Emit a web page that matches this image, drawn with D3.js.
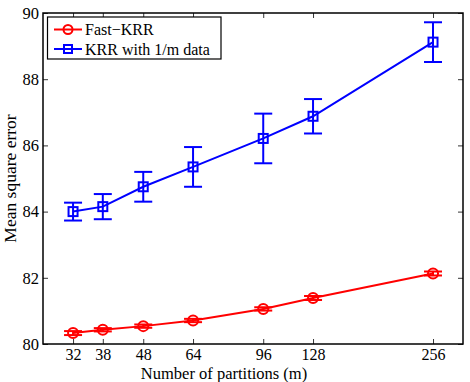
<!DOCTYPE html>
<html><head><meta charset="utf-8">
<script src="https://cdn.jsdelivr.net/npm/d3@7"></script>
<style>body{margin:0;background:#fff}svg{display:block}text{font-family:"Liberation Serif","Times New Roman",serif}</style>
</head><body>
<script>
const partitions = [32, 38, 48, 64, 96, 128, 256];
const fastKRR = [80.33, 80.43, 80.54, 80.71, 81.06, 81.39, 82.13];
const fastKRRErr = [0.06, 0.05, 0.05, 0.05, 0.05, 0.06, 0.06];
const krrSub = [84.0, 84.15, 84.75, 85.35, 86.21, 86.88, 89.12];
const krrSubErr = [0.27, 0.38, 0.45, 0.6, 0.75, 0.52, 0.6];
const yTicks = [80, 82, 84, 86, 88, 90];
const seriesNames = ["Fast\u2212KRR", "KRR with 1/m data"];

const W = 470, H = 382;
const m = {l: 43, r: 463, t: 13, b: 344};
const svg = d3.select("body").append("svg").attr("width", W).attr("height", H);

const x = d3.scaleLog().base(2).domain([26.9, 304.4]).range([m.l, m.r]);
const y = d3.scaleLinear().domain([80, 90]).range([m.b, m.t]);

const series = [
  {name: seriesNames[0], vals: fastKRR, err: fastKRRErr, color: "#ff0000", marker: "circle"},
  {name: seriesNames[1], vals: krrSub, err: krrSubErr, color: "#0000ff", marker: "square"}
];

const tl = 5;
svg.append("g").attr("transform", `translate(0,${m.b})`)
  .call(d3.axisBottom(x).tickValues(partitions).tickFormat(d3.format("d")).tickSizeInner(-tl).tickSizeOuter(0).tickPadding(5))
  .call(g => { g.select(".domain").remove(); g.selectAll("text").attr("font-size", 16).attr("fill", "#000"); });
svg.append("g").attr("transform", `translate(0,${m.t})`)
  .call(d3.axisTop(x).tickValues(partitions).tickFormat("").tickSizeInner(-tl).tickSizeOuter(0))
  .call(g => g.select(".domain").remove());
svg.append("g").attr("transform", `translate(${m.l},0)`)
  .call(d3.axisLeft(y).tickValues(yTicks).tickFormat(d3.format("d")).tickSizeInner(-tl).tickSizeOuter(0).tickPadding(4))
  .call(g => { g.select(".domain").remove(); g.selectAll("text").attr("font-size", 16.5).attr("fill", "#000"); });
svg.append("g").attr("transform", `translate(${m.r},0)`)
  .call(d3.axisRight(y).tickValues(yTicks).tickFormat("").tickSizeInner(-tl).tickSizeOuter(0))
  .call(g => g.select(".domain").remove());
svg.selectAll(".tick line").attr("stroke", "#000").attr("stroke-width", 0.8);

svg.append("rect").attr("x", m.l).attr("y", m.t).attr("width", m.r - m.l).attr("height", m.b - m.t)
  .attr("fill", "none").attr("stroke", "#000").attr("stroke-width", 1.5);

const capW = 9;
series.forEach(s => {
  const g = svg.append("g").attr("stroke", s.color).attr("fill", "none").attr("stroke-width", 2);
  g.append("path").attr("d", d3.line().x((d, i) => x(partitions[i])).y(d => y(d))(s.vals));
  s.vals.forEach((v, i) => {
    const cx = x(partitions[i]);
    const lo = y(v - s.err[i]), hi = y(v + s.err[i]);
    g.append("line").attr("x1", cx).attr("x2", cx).attr("y1", lo).attr("y2", hi);
    g.append("line").attr("x1", cx - capW).attr("x2", cx + capW).attr("y1", lo).attr("y2", lo);
    g.append("line").attr("x1", cx - capW).attr("x2", cx + capW).attr("y1", hi).attr("y2", hi);
    if (s.marker === "circle") g.append("circle").attr("cx", cx).attr("cy", y(v)).attr("r", 5);
    else g.append("rect").attr("x", cx - 4.5).attr("y", y(v) - 4.5).attr("width", 9).attr("height", 9);
  });
});

const lg = svg.append("g");
lg.append("rect").attr("x", 47.5).attr("y", 17).attr("width", 173.5).attr("height", 42)
  .attr("fill", "#fff").attr("stroke", "#000").attr("stroke-width", 1.2);
series.forEach((s, i) => {
  const ly = 29.5 + i * 19.5;
  const g = lg.append("g").attr("stroke", s.color).attr("fill", "none").attr("stroke-width", 2);
  g.append("line").attr("x1", 54).attr("x2", 82).attr("y1", ly).attr("y2", ly);
  if (s.marker === "circle") g.append("circle").attr("cx", 68).attr("cy", ly).attr("r", 4.5);
  else g.append("rect").attr("x", 64).attr("y", ly - 4).attr("width", 8).attr("height", 8);
  lg.append("text").attr("x", 85).attr("y", ly + 5.5).attr("font-size", 16).attr("fill", "#000").text(s.name);
});

svg.append("text").attr("x", 224).attr("y", 379).attr("text-anchor", "middle")
  .attr("font-size", 16.5).attr("fill", "#000").text("Number of partitions (m)");
svg.append("text").attr("transform", `translate(16,${(m.t + m.b) / 2}) rotate(-90)`).attr("text-anchor", "middle")
  .attr("font-size", 17.5).attr("fill", "#000").text("Mean square error");
</script>
</body></html>
